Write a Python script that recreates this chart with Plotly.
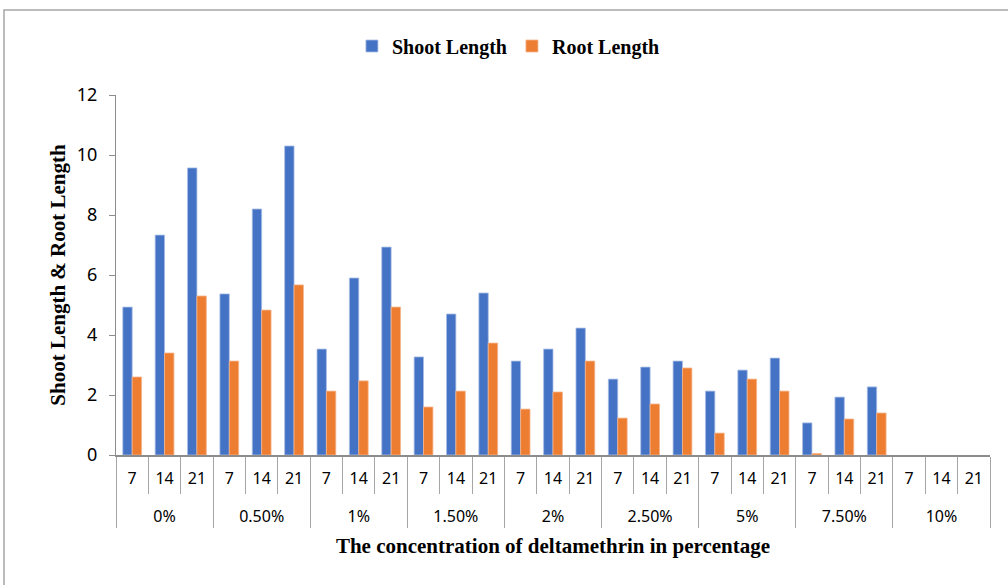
import plotly.graph_objects as go

concentrations = ["0%", "0.50%", "1%", "1.50%", "2%", "2.50%", "5%", "7.50%", "10%"]
days = ["7", "14", "21"]

shoot_length = [4.93, 7.33, 9.57,
                5.37, 8.2, 10.3,
                3.53, 5.9, 6.93,
                3.27, 4.7, 5.4,
                3.13, 3.53, 4.23,
                2.53, 2.93, 3.13,
                2.13, 2.83, 3.23,
                1.07, 1.93, 2.27,
                0, 0, 0]
root_length = [2.6, 3.4, 5.3,
               3.13, 4.83, 5.67,
               2.13, 2.47, 4.93,
               1.6, 2.13, 3.73,
               1.53, 2.1, 3.13,
               1.23, 1.7, 2.9,
               0.73, 2.53, 2.13,
               0.05, 1.2, 1.4,
               0, 0, 0]

x_outer = [c for c in concentrations for _ in days]
x_inner = [d + "<br><span style='font-size:22px'> </span>" for _ in concentrations for d in days]

def edge_widths(vals):
    return [0 if v == 0 else 0.8 for v in vals]

fig = go.Figure()
fig.add_trace(go.Bar(x=[x_outer, x_inner], y=shoot_length, name="Shoot Length",
                     marker=dict(color="#4472C4",
                                 line=dict(color="#A9BEE6", width=edge_widths(shoot_length)))))
fig.add_trace(go.Bar(x=[x_outer, x_inner], y=root_length, name="Root Length",
                     marker=dict(color="#ED7D31",
                                 line=dict(color="#F5B48A", width=edge_widths(root_length)))))

W, H = 1008, 585
L, R, T, B = 116, 18, 95, 130
pw, ph = W - L - R, H - T - B

def px(x):
    return (x - L) / pw

def py(y):
    return (H - B - y) / ph

fig.update_layout(
    width=W, height=H,
    margin=dict(l=L, r=R, t=T, b=B),
    paper_bgcolor="white", plot_bgcolor="white",
    barmode="group", bargap=0.42, bargroupgap=0,
    legend=dict(orientation="h", x=0.449, xanchor="center", y=py(46), yanchor="middle",
                font=dict(family="Liberation Serif", size=20, color="black", weight="bold"),
                itemwidth=30, traceorder="normal"),
    shapes=[dict(type="rect", xref="paper", yref="paper",
                 x0=px(4), x1=px(1015), y0=py(592), y1=py(10),
                 line=dict(color="#A6A6A6", width=1.5), fillcolor="rgba(0,0,0,0)", layer="below")],
    font=dict(family="Noto Sans", size=15, color="black"),
)

fig.update_yaxes(range=[0, 12], dtick=2, showgrid=False, zeroline=False, automargin=False,
                 showline=True, linecolor="#8C8C8C", linewidth=1,
                 ticks="outside", ticklen=6, tickcolor="#8C8C8C", ticklabelstandoff=8,
                 tickfont=dict(family="Noto Sans", size=18, color="black"),
                 title=dict(text="<b>Shoot Length & Root Length</b>",
                            font=dict(family="Liberation Serif", size=21, color="black"),
                            standoff=5))

fig.update_xaxes(showgrid=False, showline=True, linecolor="#8C8C8C", linewidth=1.5, automargin=False,
                 ticks="outside", tickson="boundaries", ticklen=37, tickcolor="#A6A6A6",
                 ticklabelstandoff=8,
                 showdividers=True, dividercolor="#A6A6A6", dividerwidth=1,
                 tickfont=dict(family="Noto Sans", size=16, color="black"),
                 title=dict(text="<b>The concentration of deltamethrin in percentage</b>",
                            font=dict(family="Liberation Serif", size=21, color="black"),
                            standoff=13))

fig.write_html("out.html", config={"displayModeBar": False},
               post_script="document.body.style.margin='0';document.body.style.padding='0';")
